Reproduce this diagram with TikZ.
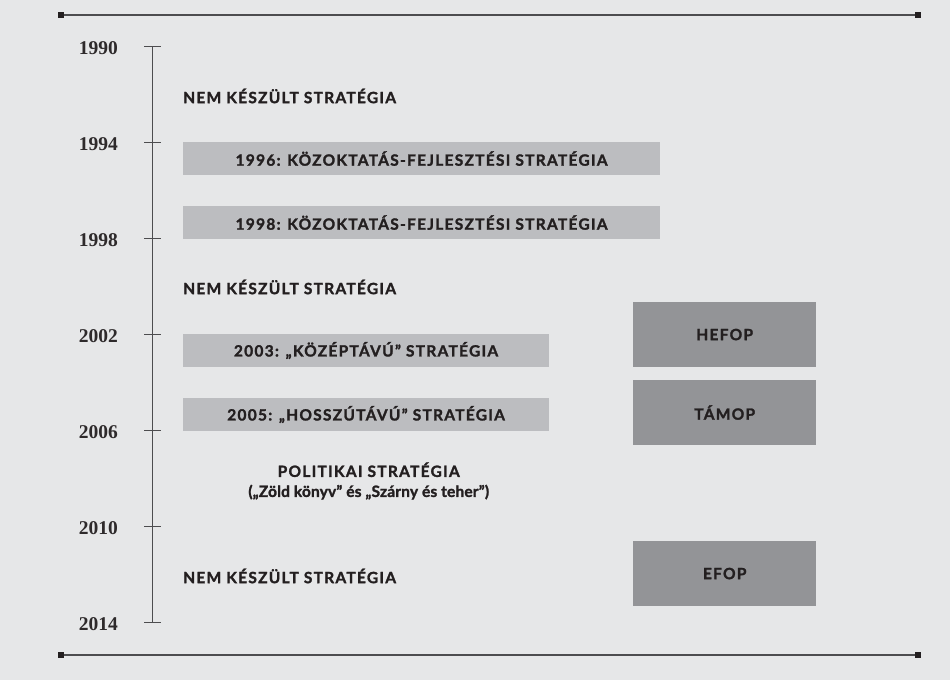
\documentclass[tikz,border=0pt]{standalone}
\usepackage{fontspec}
\setmainfont{Lato}
\newfontfamily\capsf{Lato}[LetterSpace=8.2, BoldFeatures={FakeBold=1.6}]
\newfontfamily\mixf{Lato}[LetterSpace=1, BoldFeatures={FakeBold=1.6}]
\newfontfamily\yearfont{Liberation Serif}
\definecolor{bg}{HTML}{E6E7E8}
\definecolor{lightbar}{HTML}{BCBDC0}
\definecolor{darkbox}{HTML}{939497}
\definecolor{ink}{HTML}{231F20}
\definecolor{axisc}{HTML}{4D4D4F}
\tikzset{
  yr/.style={anchor=east, inner sep=0pt, font=\yearfont\bfseries\fontsize{19.5}{20}\selectfont, text=ink!95},
  lbl/.style={inner sep=0pt, font=\capsf\bfseries\fontsize{15.5}{20}\selectfont, text=ink},
  lightbarbox/.style={fill=lightbar, anchor=north west, inner sep=0pt, font=\capsf\bfseries\fontsize{15.5}{16}\selectfont, text=ink},
  darkboxbox/.style={fill=darkbox, anchor=north west, inner sep=0pt, minimum width=183pt, font=\capsf\bfseries\fontsize{15.5}{16}\selectfont, text=ink},
  rule/.style={draw=axisc, line width=1.8pt},
  endsq/.style={fill=ink, minimum size=6pt, inner sep=0pt},
}
\begin{document}
\begin{tikzpicture}[x=1pt,y=-1pt]
\fill[bg] (0,0) rectangle (950,680);
\useasboundingbox (0,0) rectangle (950,680);
% top and bottom rules
\coordinate (tl) at (61,15); \coordinate (tr) at (918,15);
\coordinate (bl) at (61,655); \coordinate (br) at (918,655);
\draw[rule] (tl) -- (tr);
\draw[rule] (bl) -- (br);
\node[endsq] (sqtl) at (tl) {};
\node[endsq] (sqtr) at (tr) {};
\node[endsq] (sqbl) at (bl) {};
\node[endsq] (sqbr) at (br) {};
% axis
\coordinate (atop) at (152.7,46.7);
\coordinate (abot) at (152.7,622.7);
\draw[axisc, line width=1.3pt] (atop) -- (abot);
\foreach \i/\yr in {0/1990,1/1994,2/1998,3/2002,4/2006,5/2010,6/2014}{
  \draw[axisc, line width=1.3pt] (144.3,46.7+96*\i) -- (160.7,46.7+96*\i);
  \node[yr] (y\yr) at (118,48+96*\i) {\yr};
}
% labels
\node[lbl, anchor=west] (n1) at (183,96) {NEM KÉSZÜLT STRATÉGIA};
\node[lightbarbox, minimum width=477.3pt, minimum height=32.7pt] (b1) at (182.7,142) {1996: KÖZOKTATÁS-FEJLESZTÉSI STRATÉGIA};
\node[lightbarbox, minimum width=477.3pt, minimum height=32.7pt] (b2) at (182.7,206) {1998: KÖZOKTATÁS-FEJLESZTÉSI STRATÉGIA};
\node[lbl, anchor=west] (n2) at (183,287) {NEM KÉSZÜLT STRATÉGIA};
\node[lightbarbox, minimum width=366.3pt, minimum height=32.7pt] (b3) at (182.7,334) {2003: „KÖZÉPTÁVÚ” STRATÉGIA};
\node[lightbarbox, minimum width=366.3pt, minimum height=32.7pt] (b4) at (182.7,398) {2005: „HOSSZÚTÁVÚ” STRATÉGIA};
\node[lbl, align=center] (pol) at (368.7,481) {POLITIKAI STRATÉGIA\\{\mixf\bfseries („Zöld könyv” és „Szárny és teher”)}};
\node[lbl, anchor=west] (n3) at (183,576) {NEM KÉSZÜLT STRATÉGIA};
% dark boxes
\node[darkboxbox, minimum height=64.7pt] (hefop) at (633,302) {HEFOP};
\node[darkboxbox, minimum height=64.7pt] (tamop) at (633,380) {TÁMOP};
\node[darkboxbox, minimum height=64.7pt] (efop) at (633,541) {EFOP};
\end{tikzpicture}
\end{document}
